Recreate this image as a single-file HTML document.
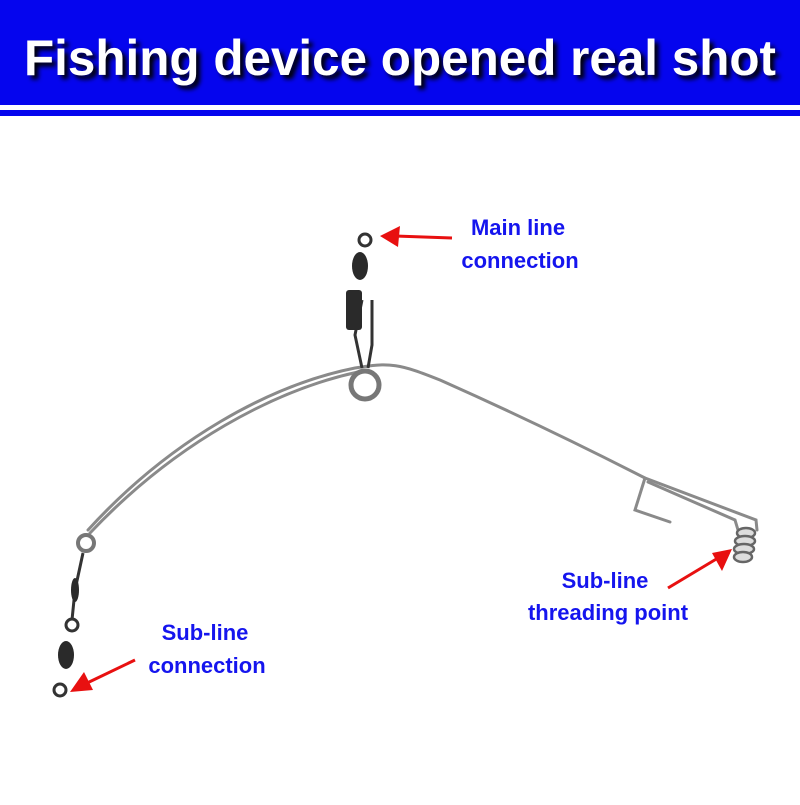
<!DOCTYPE html>
<html><head><style>
body{margin:0;width:800px;height:800px;background:#fff;overflow:hidden}
</style></head><body>
<svg width="800" height="800" viewBox="0 0 800 800" xmlns="http://www.w3.org/2000/svg">
<defs><filter id="sh" x="-5%" y="-30%" width="110%" height="160%"><feGaussianBlur stdDeviation="2.5"/></filter></defs>
<rect x="0" y="0" width="800" height="105" fill="#0505ee"/>
<rect x="0" y="110" width="800" height="6" fill="#0505ee"/>
<text x="28" y="79" font-family="Liberation Sans, sans-serif" font-weight="bold" font-size="50" fill="#000" filter="url(#sh)" textLength="752" lengthAdjust="spacingAndGlyphs">Fishing device opened real shot</text>
<text x="24" y="75" font-family="Liberation Sans, sans-serif" font-weight="bold" font-size="50" fill="#fff" textLength="752" lengthAdjust="spacingAndGlyphs">Fishing device opened real shot</text>
<g fill="none" stroke="#8a8a8a" stroke-width="3" stroke-linecap="round">
<path d="M88 530 C170 440 270 385 355 368 C390 362 400 364 440 380 C530 420 600 455 645 478 L756 520 L757 530"/>
<path d="M90 533 C175 443 275 390 358 372"/>
<path d="M645 478 L635 510 L670 522"/>
<path d="M648 482 L735 520 L738 530"/>
</g>
<circle cx="365" cy="385" r="14" fill="none" stroke="#777" stroke-width="5"/>
<circle cx="86" cy="543" r="8" fill="none" stroke="#777" stroke-width="4"/>
<g fill="#ddd" stroke="#666" stroke-width="2.5">
<ellipse cx="746" cy="533" rx="9" ry="5"/>
<ellipse cx="745" cy="541" rx="10" ry="5"/>
<ellipse cx="744" cy="549" rx="10" ry="5"/>
<ellipse cx="743" cy="557" rx="9" ry="5"/>
</g>
<g stroke="#333" fill="none" stroke-width="3">
<circle cx="365" cy="240" r="6"/>
<path d="M362 300 L355 335 L362 368 M372 300 L372 345 L368 368"/>
<circle cx="72" cy="625" r="6"/>
<circle cx="60" cy="690" r="6"/>
<path d="M83 553 L75 590 L72 620"/>
</g>
<g fill="#2a2a2a">
<ellipse cx="360" cy="266" rx="8" ry="14"/>
<rect x="346" y="290" width="16" height="40" rx="3"/>
<ellipse cx="66" cy="655" rx="8" ry="14"/>
<ellipse cx="75" cy="590" rx="4" ry="12"/>
</g>
<g stroke="#e81010" stroke-width="3" fill="#e81010">
<line x1="452" y1="238" x2="395" y2="236"/>
<polygon points="380,236 400,226 398,247" stroke="none"/>
<line x1="135" y1="660" x2="85" y2="684"/>
<polygon points="70,692 84,672 93,690" stroke="none"/>
<line x1="668" y1="588" x2="718" y2="558"/>
<polygon points="732,549 712,553 722,571" stroke="none"/>
</g>
<g font-family="Liberation Sans, sans-serif" font-weight="bold" font-size="22" fill="#1515ee" text-anchor="middle">
<text x="518" y="235">Main line</text>
<text x="520" y="268">connection</text>
<text x="205" y="640">Sub-line</text>
<text x="207" y="673">connection</text>
<text x="605" y="588">Sub-line</text>
<text x="608" y="620">threading point</text>
</g>
</svg>
</body></html>
